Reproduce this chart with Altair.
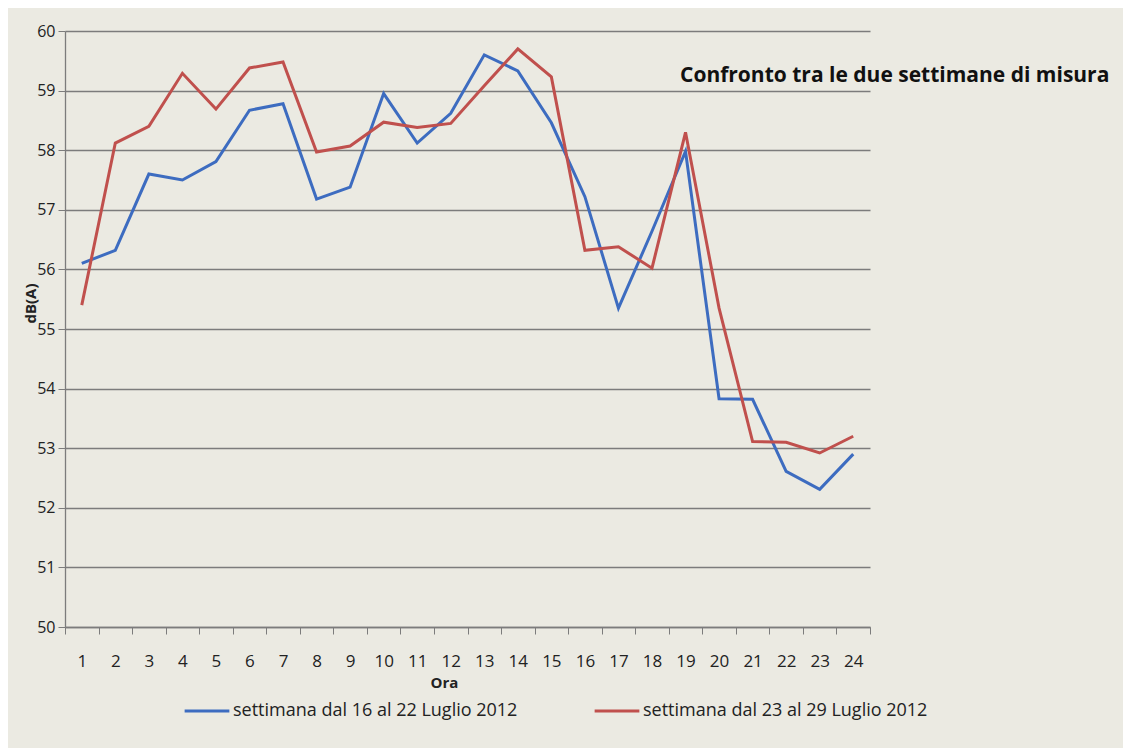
import altair as alt
import pandas as pd

hours = list(range(1, 25))
week1 = [56.10, 56.32, 57.60, 57.50, 57.81, 58.67, 58.78, 57.18, 57.38, 58.95, 58.12, 58.62,
         59.60, 59.33, 58.46, 57.22, 55.35, 56.64, 57.98, 53.83, 53.82, 52.61, 52.31, 52.90]
week2 = [55.40, 58.12, 58.40, 59.29, 58.69, 59.38, 59.48, 57.97, 58.07, 58.47, 58.38, 58.45,
         59.08, 59.70, 59.23, 56.32, 56.38, 56.02, 58.30, 55.35, 53.11, 53.10, 52.92, 53.20]
series_names = ["settimana dal 16 al 22 Luglio 2012", "settimana dal 23 al 29 Luglio 2012"]
series_colors = ["#3d6cc0", "#c0504d"]
y_ticks = list(range(50, 61))
title_text = "Confronto tra le due settimane di misura"

rows = []
for h, a, b in zip(hours, week1, week2):
    rows.append({"Ora": h, "dB": a, "serie": series_names[0]})
    rows.append({"Ora": h, "dB": b, "serie": series_names[1]})
df = pd.DataFrame(rows)

FONT = "Open Sans"
GRID = "#7c7c7c"

lines = alt.Chart(df).mark_line(strokeWidth=3).encode(
    x=alt.X("Ora:O",
            scale=alt.Scale(type="band", paddingInner=0, paddingOuter=0),
            axis=alt.Axis(title="Ora", labelAngle=0, tickBand="extent",
                          tickSize=7, tickColor=GRID, domainColor=GRID, domainWidth=1.3,
                          labelFont=FONT, labelFontSize=17, labelColor="#222",
                          labelPadding=19,
                          titleFont=FONT, titleFontSize=15, titleFontWeight="bold",
                          titleColor="#222", titleX=379, titleY=48, grid=False)),
    y=alt.Y("dB:Q",
            scale=alt.Scale(domain=[50, 60], nice=False, zero=False),
            axis=alt.Axis(title="dB(A)", values=y_ticks, format="d",
                          grid=True, gridColor=GRID, gridWidth=1.3,
                          tickSize=7, tickColor=GRID, domainColor=GRID, domainWidth=1.3,
                          labelFont=FONT, labelFontSize=16, labelColor="#222",
                          labelPadding=3,
                          titleFont=FONT, titleFontSize=15, titleFontWeight="bold",
                          titleColor="#222", titleX=-27, titleY=272)),
    color=alt.Color("serie:N",
                    scale=alt.Scale(domain=series_names, range=series_colors),
                    legend=alt.Legend(title=None, orient="none", legendX=118, legendY=656,
                                      direction="horizontal", symbolType="stroke",
                                      symbolStrokeWidth=3, symbolSize=2000,
                                      labelFont=FONT, labelFontSize=18, labelColor="#222",
                                      labelLimit=0, columnPadding=70, labelOffset=2)),
)

title_df = pd.DataFrame({"t": [title_text]})
title = alt.Chart(title_df).mark_text(
    align="left", baseline="middle", font=FONT, fontSize=21, fontWeight="bold", color="#111"
).encode(text="t:N", x=alt.value(615), y=alt.value(45))

chart = alt.layer(lines, title).properties(
    width=805, height=596,
    autosize=alt.AutoSizeParams(type="none"),
    padding={"left": 57, "top": 23, "right": 253, "bottom": 121},
    background="#ebeae2",
).configure_view(stroke=None)

chart.save("out.html", embed_options={"renderer": "svg", "actions": False})
